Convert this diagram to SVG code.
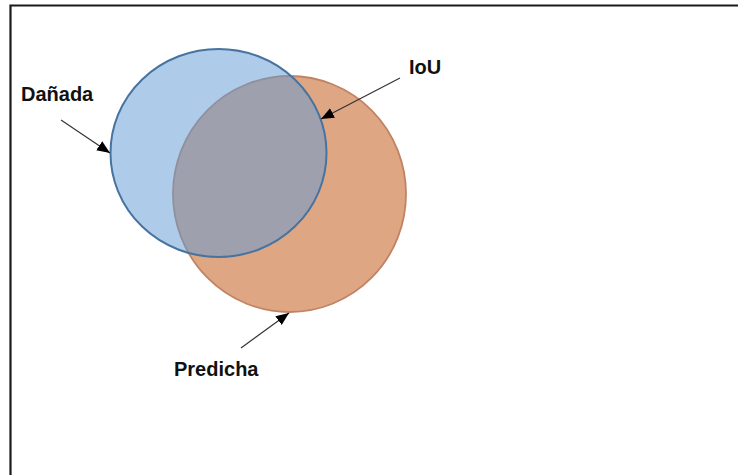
<svg xmlns="http://www.w3.org/2000/svg" width="738" height="475" viewBox="0 0 738 475">
<style>
.lbl{font-family:"Liberation Sans",Arial,sans-serif;font-weight:bold;font-size:20px;fill:#111}
.con{stroke:#333;stroke-width:1.2;fill:none}
</style>
<defs>
<marker id="ah" viewBox="0 0 12 10" refX="12" refY="5" markerWidth="13" markerHeight="11" markerUnits="userSpaceOnUse" orient="auto">
<path d="M0,0 L12,5 L0,10 Z" fill="#000"/>
</marker>
</defs>
<rect width="738" height="475" fill="#fff"/>
<path d="M10.5,475 V5.5 H738" fill="none" stroke="#1a1a1a" stroke-width="2.2"/>
<g id="predicha">
<ellipse cx="289.5" cy="194" rx="116.5" ry="118" fill="#dfa684" stroke="#c08363" stroke-width="1.8"/>
</g>
<g id="danada">
<ellipse cx="218.5" cy="153" rx="108" ry="104" fill="#639bd5" fill-opacity="0.52" stroke="#47739f" stroke-width="2"/>
</g>
<g id="connectors">
<line class="con" x1="61" y1="120" x2="110" y2="153" marker-end="url(#ah)"/>
<line class="con" x1="400" y1="78" x2="321" y2="119" marker-end="url(#ah)" stroke="#111" stroke-width="1"/>
<line class="con" x1="241" y1="348" x2="289" y2="313" marker-end="url(#ah)"/>
</g>
<g id="labels">
<text class="lbl" x="21" y="101">Dañada</text>
<text class="lbl" x="409" y="74">IoU</text>
<text class="lbl" x="174" y="376">Predicha</text>
</g>
</svg>
